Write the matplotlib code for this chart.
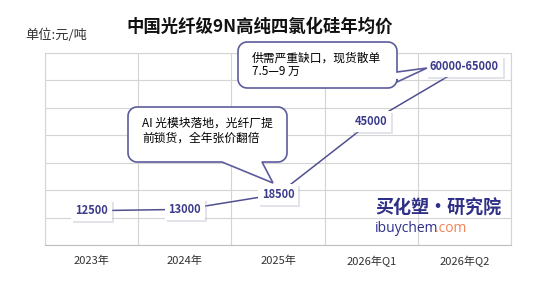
import numpy as np
import matplotlib.pyplot as plt
from matplotlib.path import Path
from matplotlib.patches import PathPatch
import matplotlib.patheffects as pe

plt.rcParams['font.family'] = ['Noto Sans CJK SC', 'DejaVu Sans']

# 数据
years = ['2023年', '2024年', '2025年', '2026年Q1', '2026年Q2']
prices = [12500, 13000, 18500, 45000, 65000]
price_labels = ['12500', '13000', '18500', '45000', '60000-65000']
note1 = ['供需严重缺口，现货散单', '7.5—9 万']
note2 = ['AI 光模块落地，光纤厂提', '前锁货，全年张价翻倍']

W, H = 548, 291
navy = '#3b3b8c'
grid_c = '#d4d4d4'

fig = plt.figure(figsize=(W / 100, H / 100), dpi=100)
ax = fig.add_axes([45 / W, 1 - 245 / H, (511 - 45) / W, (245 - 53) / H])

x = np.arange(len(years))
ax.plot(x, prices, color='#50508f', lw=1.1, zorder=2)
ax.set_xlim(-0.5, len(years) - 0.5)
ax.set_ylim(0, 70000)
ax.set_yticks(np.arange(0, 70001, 10000))
ax.set_yticklabels([])
ax.set_xticks(x)
ax.set_xticklabels(years, fontsize=8, color='#333333')
ax.set_xticks(np.arange(-0.5, len(years), 1), minor=True)
ax.tick_params(axis='both', which='both', length=0)
ax.tick_params(axis='x', pad=8)
ax.grid(True, axis='y', color=grid_c, lw=0.8)
ax.grid(True, axis='x', which='minor', color=grid_c, lw=0.8)
for s in ax.spines.values():
    s.set_color(grid_c)
    s.set_linewidth(0.8)
ax.spines['bottom'].set_color('#bfbfbf')

for xi, yi, t in zip(x, prices, price_labels):
    txt = ax.text(xi, yi, t, ha='center', va='center', fontsize=8, fontweight='bold',
                  color=navy, zorder=4,
                  bbox=dict(boxstyle='square,pad=0.35', fc='white', ec='none'))
    txt.get_bbox_patch().set_path_effects(
        [pe.SimplePatchShadow(offset=(1.5, -1.5), shadow_rgbFace='#b0b0c8', alpha=0.35), pe.Normal()])


def callout(x0, y0, x1, y1, base, tip, side, r=9):
    # 像素坐标（左上原点）转图形坐标
    def c(px, py):
        return (px / W, 1 - py / H)
    pts = []
    def arc(cx, cy, a0, a1):
        for a in np.linspace(a0, a1, 8):
            pts.append((cx + r * np.cos(a), cy + r * np.sin(a)))
    arc(x0 + r, y0 + r, np.pi, 1.5 * np.pi)
    arc(x1 - r, y0 + r, 1.5 * np.pi, 2 * np.pi)
    if side == 'right':
        pts += [(x1, base[0]), tip, (x1, base[1])]
    arc(x1 - r, y1 - r, 0, 0.5 * np.pi)
    if side == 'bottom':
        pts += [(base[1], y1), tip, (base[0], y1)]
    arc(x0 + r, y1 - r, 0.5 * np.pi, np.pi)
    verts = [c(*p) for p in pts] + [c(*pts[0])]
    codes = [Path.MOVETO] + [Path.LINETO] * (len(pts) - 1) + [Path.CLOSEPOLY]
    patch = PathPatch(Path(verts, codes), fc='white', ec='#5c5c9c', lw=1.2,
                      transform=fig.transFigure, zorder=5)
    fig.add_artist(patch)


callout(238, 42, 397, 88, (72, 82), (427, 68), 'right')
for i, line in enumerate(note1):
    fig.text(252 / W, 1 - (58 + 13 * i) / H, line, fontsize=8.5, va='center',
             ha='left', zorder=6)
callout(128, 107, 287, 162, (222, 262), (273, 183), 'bottom')
for i, line in enumerate(note2):
    fig.text(142 / W, 1 - (123 + 15 * i) / H, line, fontsize=8.5, va='center',
             ha='left', zorder=6)

fig.text(260 / W, 1 - 27 / H, '中国光纤级9N高纯四氯化硅年均价', fontsize=12.5,
         fontweight='bold', ha='center', va='center', color='#111111')
fig.text(25 / W, 1 - 35 / H, '单位:元/吨', fontsize=9.5, ha='left', va='center', color='#333333')

# 水印
fig.text(375 / W, 1 - 208 / H, '买化塑·研究院', fontsize=13, fontweight='bold',
         color='#2e3088', ha='left', va='center')
t1 = fig.text(375 / W, 1 - 229 / H, 'ibuychem', fontsize=10, color='#2e3088',
              ha='left', va='center', family='Open Sans')
fig.canvas.draw()
bb = t1.get_window_extent()
fig.text((bb.x1 - 3) / W, 1 - 229 / H, '.com', fontsize=10, color='#f0845a',
         ha='left', va='center', family='Open Sans')

fig.savefig('out.png', dpi=100)
